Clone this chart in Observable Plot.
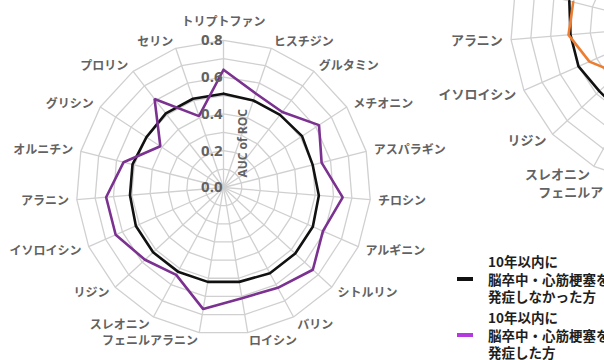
<!DOCTYPE html>
<html><head><meta charset="utf-8">
<script src="https://cdn.jsdelivr.net/npm/d3@7"></script>
<script src="https://cdn.jsdelivr.net/npm/@observablehq/plot@0.6"></script>
<style>
html,body{margin:0;padding:0;background:#fff;overflow:hidden;}
#wrap{position:relative;width:604px;height:360px;overflow:hidden;background:#fff;}
.lg-text{position:absolute;left:488px;font-family:"Noto Sans CJK JP";font-weight:700;font-size:13.5px;line-height:17.5px;color:#1e1e1e;white-space:nowrap;}
.lg-mark{position:absolute;left:457px;width:16px;height:4px;}
</style>
</head><body>
<div id="wrap"></div>
<script>
// ---- data ----
const categories = ["トリプトファン","ヒスチジン","グルタミン","メチオニン","アスパラギン","チロシン","アルギニン","シトルリン","バリン","ロイシン","フェニルアラニン","スレオニン","リジン","イソロイシン","アラニン","オルニチン","グリシン","プロリン","セリン"];
// left chart: black = no event within 10 years, purple = event within 10 years
const aucNoEvent = [0.51,0.50,0.50,0.51,0.50,0.52,0.53,0.53,0.53,0.52,0.52,0.52,0.52,0.52,0.51,0.51,0.50,0.51,0.51];
const aucEvent   = [0.64,0.54,0.52,0.62,0.55,0.65,0.59,0.66,0.62,0.61,0.67,0.54,0.58,0.64,0.64,0.56,0.41,0.61,0.41];
// right (partially visible) chart: only the visible spokes are read
const rightNoEvent = [null,null,null,null,null,null,null,null,null,null,null,0.50,0.48,0.50,0.50,0.52,null,null,null];
const rightEvent   = [null,null,null,null,null,null,null,null,null,null,null,null,0.35,0.44,0.51,0.50,null,null,null];
const ringValues = [0.1,0.2,0.3,0.4,0.5,0.6,0.7,0.8];
const tickValues = [0,0.2,0.4,0.6,0.8];
const tickLabels = ["0.0","0.2","0.4","0.6","0.8"];
const axisTitle = "AUC of ROC";
const legendLabels = ["10年以内に\n脳卒中・心筋梗塞を\n発症しなかった方","10年以内に\n脳卒中・心筋梗塞を\n発症した方"];

// ---- layout ----
const W = 604, H = 360, PX = 184, CX = 223, CY = 187;
const charts = [
  {id: 0, cx: 0, cy: 0, s: 1, series: [[aucNoEvent, "#111111"], [aucEvent, "#7a3190"]]},
  {id: 1, cx: (669 - CX) / PX, cy: (CY - 26) / PX, s: 1.08, series: [[rightNoEvent, "#111111"], [rightEvent, "#ED7D31"]]}
];
const n = categories.length;
const ang = i => i * 2 * Math.PI / n;
const maxV = ringValues[ringValues.length - 1];
function pt(c, i, v) {
  if (v == null) return {x: NaN, y: NaN};
  return {x: c.cx + c.s * v * Math.sin(ang(i)), y: c.cy + c.s * v * Math.cos(ang(i))};
}
// approximate pixel extent check, so labels lying wholly outside the picture are not drawn
function visible(d) {
  const px = CX + d.x * PX, py = CY - d.y * PX, w = d.text.length * d.size;
  const x0 = d.anchor === "start" ? px : d.anchor === "end" ? px - w : px - w / 2;
  return x0 < W && x0 + w > 0 && py + d.size / 2 > 0 && py - d.size / 2 < H;
}

const rings = [], spokes = [], lines = [], labels = [];
for (const c of charts) {
  for (const v of ringValues) {
    for (let i = 0; i <= n; i++) rings.push({...pt(c, i % n, v), z: c.id + "-" + v});
  }
  for (let i = 0; i < n; i++) {
    const o = pt(c, i, 0), e = pt(c, i, maxV);
    spokes.push({x1: o.x, y1: o.y, x2: e.x, y2: e.y});
    const sn = Math.sin(ang(i));
    const anchor = Math.abs(sn) < 0.05 ? "middle" : sn > 0 ? "start" : "end";
    const r = anchor === "middle" ? maxV + 0.105 : maxV + 0.042;
    labels.push({...pt(c, i, r), text: categories[i], anchor, size: 12 * c.s});
  }
  c.series.forEach(([vals, color], k) => {
    for (let i = 0; i <= n; i++) lines.push({...pt(c, i % n, vals[i % n]), z: c.id + "-" + k, color});
  });
}
const shownLabels = labels.filter(visible);
const ticks = tickValues.map((v, i) => ({x: 0, y: v, label: tickLabels[i]}));

const grid = "#d0d0d0";
const textFill = "#626262";
const plot = Plot.plot({
  width: W, height: H, margin: 0,
  x: {domain: [-CX / PX, (W - CX) / PX], axis: null},
  y: {domain: [-(H - CY) / PX, CY / PX], axis: null},
  style: {overflow: "hidden", background: "white"},
  marks: [
    Plot.line(rings, {x: "x", y: "y", z: "z", stroke: grid, strokeWidth: 1.3, clip: true}),
    Plot.link(spokes, {x1: "x1", y1: "y1", x2: "x2", y2: "y2", stroke: grid, strokeWidth: 1.3, clip: true}),
    Plot.line(lines, {x: "x", y: "y", z: "z", stroke: d => d.color, strokeWidth: 2.6, strokeLinejoin: "miter", clip: true}),
    ...["start", "end", "middle"].map(a => Plot.text(shownLabels.filter(d => d.anchor === a), {
      x: "x", y: "y", text: "text", textAnchor: a, fontSize: "size", dy: 1,
      fontFamily: "Noto Sans CJK JP", fontWeight: 700, fill: textFill, clip: true
    })),
    Plot.text(ticks, {x: "x", y: "y", text: "label", textAnchor: "end", dx: -1,
      fontFamily: "Open Sans", fontWeight: 700, fontSize: 15, fill: textFill}),
    Plot.text([axisTitle], {x: () => 0, y: () => 0.24, text: d => d, dx: 20, rotate: -90,
      fontFamily: "Open Sans", fontWeight: 700, fontSize: 12, fill: textFill})
  ]
});
const wrap = document.getElementById("wrap");
wrap.appendChild(plot);

// legend
const legendColors = ["#111111", "#b23be0"];
const legendTops = [253, 309];
legendLabels.forEach((t, i) => {
  const txt = document.createElement("div");
  txt.className = "lg-text";
  txt.style.top = legendTops[i] + "px";
  txt.innerHTML = t.split("\n").join("<br>");
  wrap.appendChild(txt);
  const m = document.createElement("div");
  m.className = "lg-mark";
  m.style.top = (legendTops[i] + 24) + "px";
  m.style.background = legendColors[i];
  wrap.appendChild(m);
});
</script>
</body></html>
